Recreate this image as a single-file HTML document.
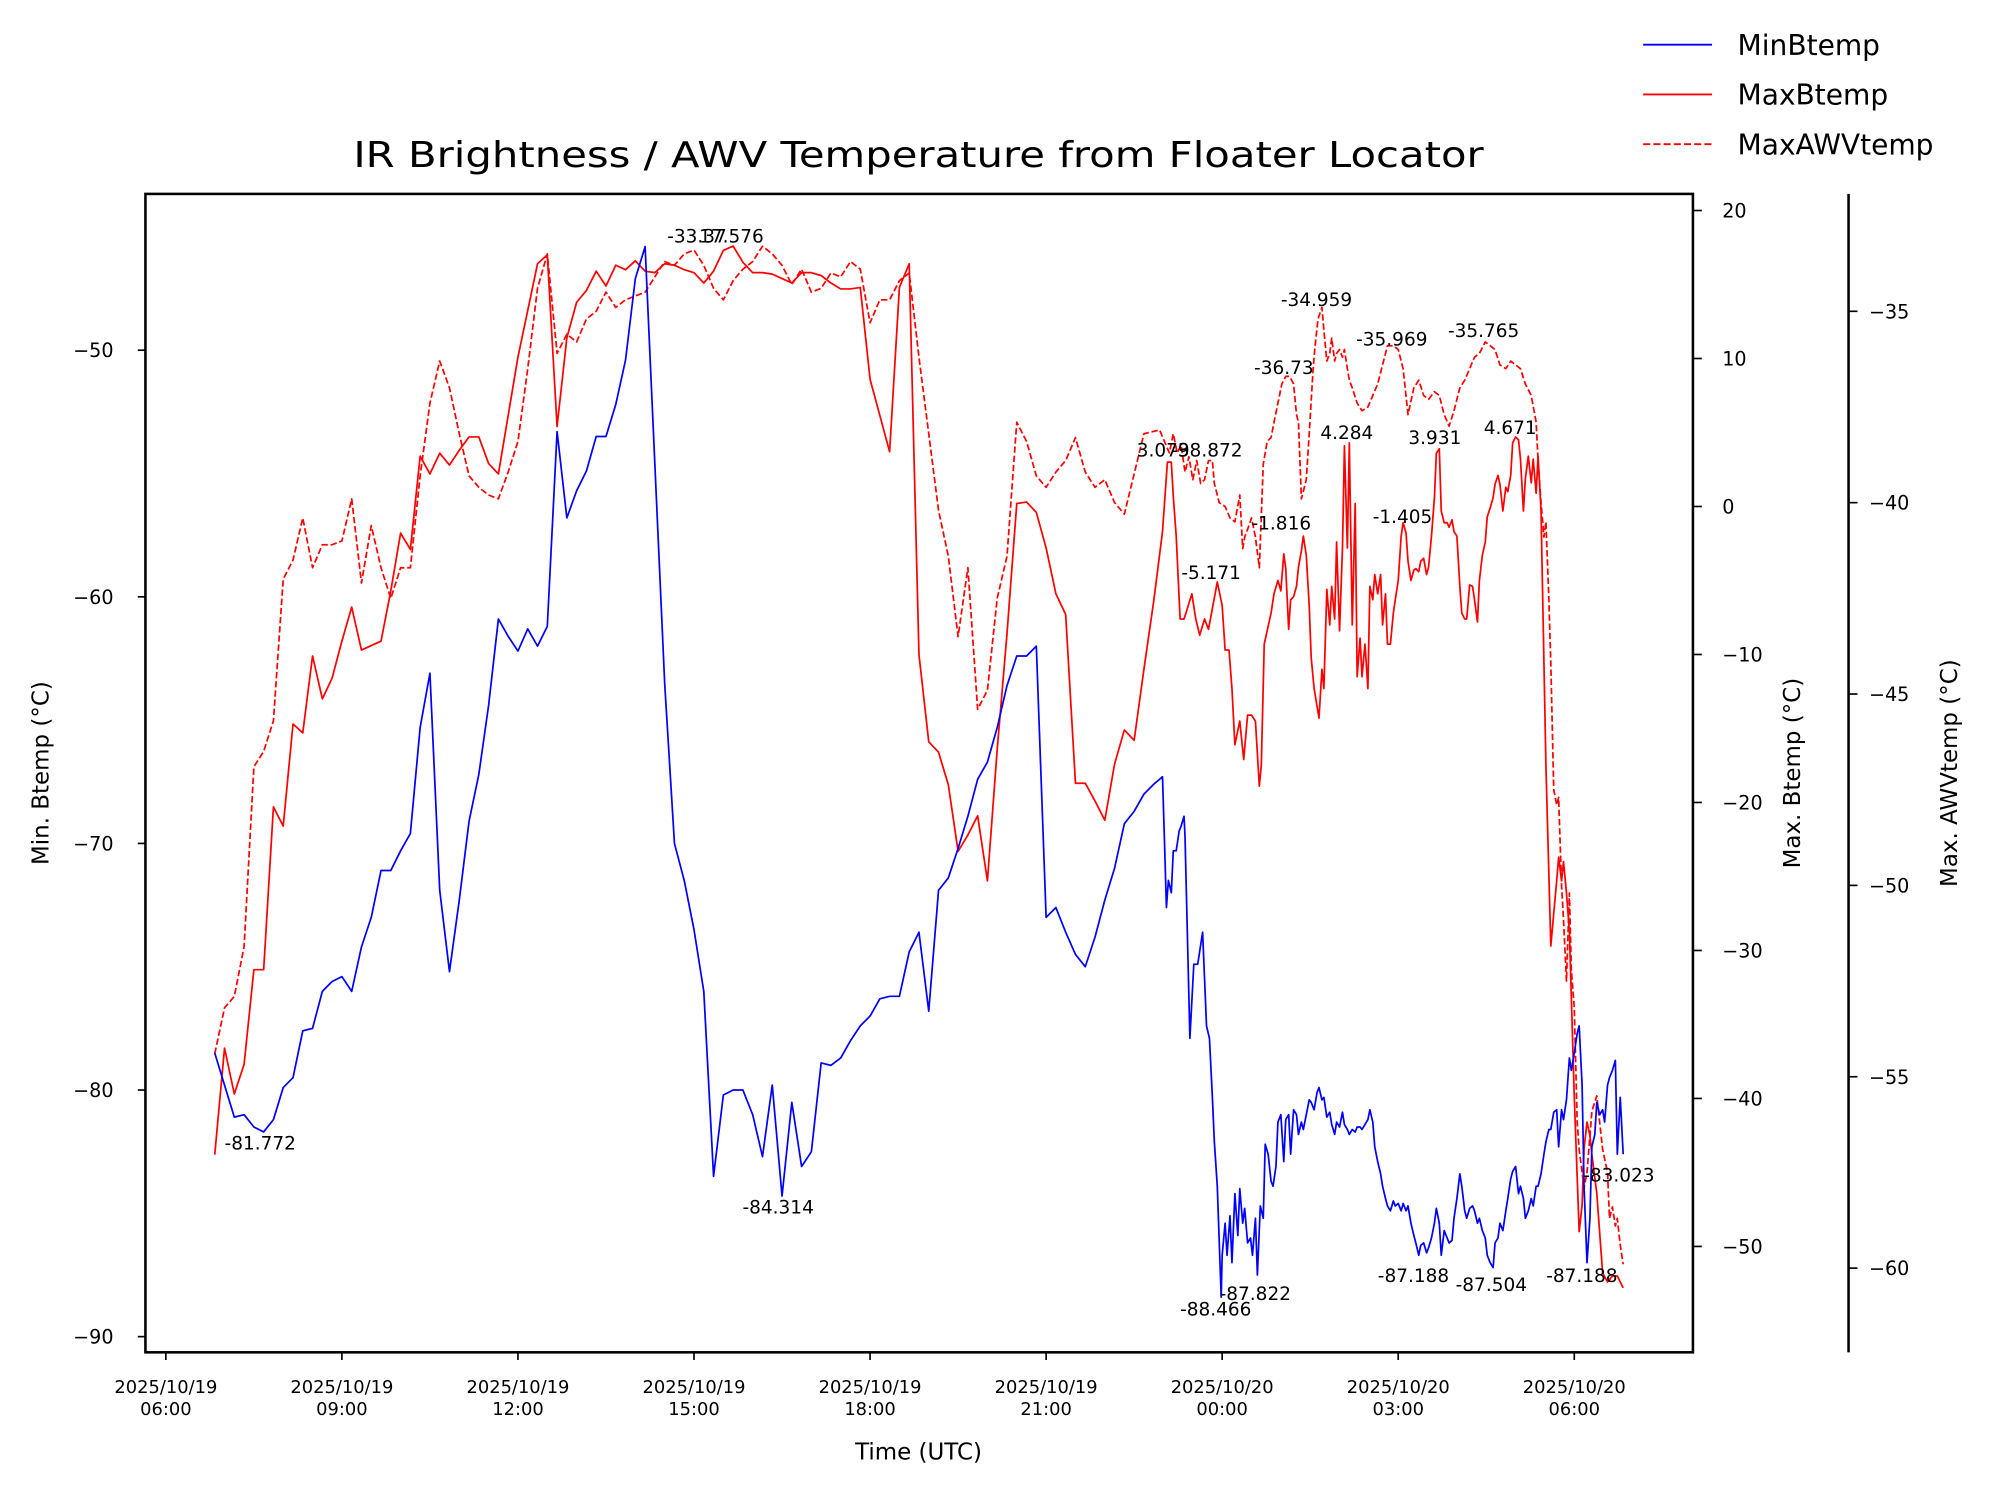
<!DOCTYPE html>
<html><head><meta charset="utf-8"><style>
html,body{margin:0;padding:0;background:#fff;}
svg{display:block;font-family:"DejaVu Sans","Liberation Sans",sans-serif;}
</style></head><body>
<svg id="chart" width="1994" height="1491" viewBox="0 0 1563 1168.7" preserveAspectRatio="none" xmlns="http://www.w3.org/2000/svg">
<rect x="0" y="0" width="1563" height="1169" fill="#fff"/>
<text x="720" y="131" font-size="28" text-anchor="middle" textLength="886" lengthAdjust="spacingAndGlyphs">IR Brightness / AWV Temperature from Floater Locator</text>
<g id="plot"></g>
<rect x="114" y="152" width="1213" height="908" fill="none" stroke="#000" stroke-width="2"/>
<line x1="1449" y1="152" x2="1449" y2="1060" stroke="#000" stroke-width="2"/>
<g id="axes"></g>
<text x="720" y="1144" font-size="18" text-anchor="middle">Time (UTC)</text>
<text transform="translate(38,606) rotate(-90)" font-size="18" text-anchor="middle">Min. Btemp (°C)</text>
<text transform="translate(1411,606) rotate(-90)" font-size="18" text-anchor="middle">Max. Btemp (°C)</text>
<text transform="translate(1534,606) rotate(-90)" font-size="18" text-anchor="middle">Max. AWVtemp (°C)</text>
<g font-size="22">
<g><line x1="1288" y1="35" x2="1342" y2="35" stroke="#00f" stroke-width="1.5"/><text x="1362" y="43">MinBtemp</text></g>
<g><line x1="1288" y1="74" x2="1342" y2="74" stroke="#f00" stroke-width="1.5"/><text x="1362" y="82">MaxBtemp</text></g>
<g><line x1="1288" y1="113" x2="1342" y2="113" stroke="#f00" stroke-width="1.5" stroke-dasharray="5.5,2.5"/><text x="1362" y="121">MaxAWVtemp</text></g>
</g>
<g font-size="14.5">
<text x="176" y="901">-81.772</text>
<text x="582" y="951">-84.314</text>
<text x="523" y="190">-33.37</text>
<text x="548" y="190">17.576</text>
<text x="1004" y="240">-34.959</text>
<text x="983" y="293">-36.73</text>
<text x="1063" y="271">-35.969</text>
<text x="1135" y="264">-35.765</text>
<text x="891" y="358">3.079</text>
<text x="918" y="358">-38.872</text>
<text x="1035" y="344">4.284</text>
<text x="1104" y="348">3.931</text>
<text x="1163" y="340">4.671</text>
<text x="981" y="415">-1.816</text>
<text x="1076" y="410">-1.405</text>
<text x="926" y="454">-5.171</text>
<text x="925" y="1031">-88.466</text>
<text x="956" y="1019">-87.822</text>
<text x="1080" y="1005">-87.188</text>
<text x="1141" y="1012">-87.504</text>
<text x="1212" y="1005">-87.188</text>
<text x="1241" y="926">-83.023</text>
</g>
</svg>
<script>
// minutes after 2025/10/19 06:00 UTC
const minT = [50,60,70,80,90,100,110,120,130,140,150,160,170,180,190,200,210,220,230,240,250,260,270,280,290,300,310,320,330,340,350,360,370,380,390,400,410,420,430,440,450,460,470,480,490,510,520,530,540,550,560,570,580,590,600,610,620,630,640,650,660,670,680,690,700,710,720,730,740,750,760,770,780,790,800,810,820,830,840,850,860,870,880,890,900,910,920,930,940,950,960,970,980,990,1000,1010,1019,1021,1023,1025,1028,1030,1033,1036,1038,1041,1042,1047,1051,1055,1060,1064,1067,1070,1072,1075,1079,1080,1083,1085,1088,1090,1093,1096,1098,1101,1103,1106,1109,1111,1114,1116,1119,1122,1124,1127,1130,1132,1135,1137,1140,1143,1145,1148,1150,1153,1156,1158,1161,1163,1166,1169,1171,1174,1177,1179,1182,1184,1187,1190,1192,1195,1197,1200,1203,1205,1208,1210,1213,1216,1218,1221,1223,1226,1229,1231,1234,1236,1239,1242,1244,1247,1249,1252,1255,1257,1260,1263,1265,1268,1270,1273,1276,1278,1281,1283,1286,1289,1291,1294,1297,1299,1302,1304,1307,1310,1312,1315,1317,1320,1323,1325,1328,1330,1333,1336,1338,1341,1343,1346,1349,1351,1354,1357,1359,1362,1364,1367,1370,1372,1375,1377,1380,1383,1385,1388,1390,1393,1396,1398,1401,1403,1406,1409,1411,1414,1416,1419,1422,1424,1427,1429,1432,1435,1437,1440,1443,1445,1448,1450,1453,1456,1458,1461,1463,1466,1469,1471,1474,1476,1479,1482,1484,1487,1490];
const minV = [-78.5,-79.8,-81.1,-81.0,-81.5,-81.7,-81.2,-79.9,-79.5,-77.6,-77.5,-76.0,-75.6,-75.4,-76.0,-74.2,-73.0,-71.1,-71.1,-70.3,-69.6,-65.3,-63.1,-71.9,-75.2,-72.3,-69.1,-67.2,-64.4,-60.9,-61.6,-62.2,-61.3,-62.0,-61.2,-53.3,-56.8,-55.7,-54.9,-53.5,-53.5,-52.2,-50.4,-47.1,-45.8,-63.5,-70.0,-71.5,-73.5,-76.0,-83.5,-80.2,-80.0,-80.0,-81.0,-82.7,-79.8,-84.3,-80.5,-83.1,-82.5,-78.9,-79.0,-78.7,-78.0,-77.4,-77.0,-76.3,-76.2,-76.2,-74.4,-73.6,-76.8,-71.9,-71.4,-70.2,-68.9,-67.4,-66.7,-65.3,-63.6,-62.4,-62.4,-62.0,-73.0,-72.6,-73.6,-74.5,-75.0,-73.8,-72.3,-71.0,-69.2,-68.7,-68.0,-67.6,-67.3,-69.9,-72.6,-71.5,-72.0,-70.3,-70.3,-69.5,-69.3,-68.9,-69.7,-77.9,-74.9,-74.9,-73.6,-77.4,-77.9,-80.3,-82.1,-83.9,-88.4,-86.7,-85.4,-86.7,-85.1,-87.0,-84.2,-85.9,-84.0,-85.4,-84.8,-86.2,-86.0,-86.7,-85.2,-87.5,-84.7,-85.2,-82.2,-82.6,-83.7,-83.9,-83.1,-81.3,-81.0,-82.9,-81.2,-81.0,-82.6,-80.8,-81.0,-81.8,-81.3,-81.6,-81.0,-80.4,-80.5,-80.8,-80.1,-79.9,-80.4,-80.3,-81.1,-80.9,-81.4,-81.8,-81.3,-81.5,-80.9,-81.4,-81.6,-81.8,-81.6,-81.7,-81.5,-81.5,-81.6,-81.4,-81.2,-80.8,-81.3,-82.3,-82.9,-83.4,-83.9,-84.4,-84.7,-84.9,-84.5,-84.7,-84.6,-84.9,-84.6,-84.9,-84.7,-85.4,-85.9,-86.2,-86.7,-86.3,-86.2,-86.6,-86.4,-86.0,-85.4,-84.8,-85.4,-86.7,-85.7,-86.0,-86.2,-86.1,-85.2,-84.4,-83.4,-83.9,-84.9,-85.2,-84.8,-84.7,-84.9,-85.4,-85.2,-85.7,-86.0,-86.7,-87.0,-87.2,-86.2,-86.0,-85.4,-85.7,-84.9,-84.4,-83.6,-83.3,-83.1,-84.2,-83.9,-84.4,-85.2,-84.9,-84.4,-84.7,-83.9,-83.9,-83.4,-82.6,-82.1,-81.6,-81.6,-80.9,-80.8,-82.3,-80.8,-81.2,-80.4,-78.7,-79.2,-78.5,-77.7,-77.4,-79.8,-83.9,-87.0,-85.2,-82.3,-81.8,-80.5,-81.0,-80.8,-81.3,-79.8,-79.5,-79.2,-78.8,-82.6,-80.3,-82.6];

const maxT = [50,60,70,80,90,100,110,120,130,140,150,160,170,180,190,200,210,220,230,240,250,260,270,280,290,300,310,320,330,340,360,380,390,400,410,420,430,440,450,460,470,480,490,500,510,520,530,540,550,560,570,580,590,600,610,620,630,640,650,660,670,680,690,700,710,720,740,750,760,770,780,790,800,810,820,830,840,850,860,870,880,890,900,910,920,930,940,950,960,970,980,990,1000,1010,1019,1024,1028,1030,1033,1037,1041,1043,1049,1053,1057,1062,1066,1070,1075,1080,1083,1087,1090,1093,1098,1102,1106,1110,1114,1118,1120,1123,1130,1133,1137,1140,1143,1145,1148,1150,1153,1156,1158,1161,1163,1166,1169,1171,1174,1179,1182,1184,1187,1190,1192,1195,1197,1200,1203,1205,1208,1210,1213,1216,1218,1221,1223,1226,1229,1231,1234,1236,1239,1242,1244,1247,1249,1252,1255,1257,1260,1263,1265,1268,1270,1273,1276,1278,1281,1283,1286,1289,1291,1294,1297,1299,1302,1304,1307,1310,1312,1315,1317,1320,1323,1325,1328,1330,1333,1336,1338,1341,1343,1346,1349,1351,1354,1357,1359,1362,1364,1367,1370,1372,1375,1377,1380,1383,1385,1388,1390,1393,1396,1398,1401,1403,1406,1411,1416,1422,1424,1427,1429,1432,1435,1440,1445,1448,1450,1453,1456,1458,1463,1469,1474,1479,1484,1490];
const maxV = [-43.8,-36.6,-39.7,-37.7,-31.3,-31.3,-20.3,-21.6,-14.7,-15.3,-10.1,-13.0,-11.6,-9.1,-6.8,-9.7,-9.4,-9.1,-5.7,-1.8,-2.9,3.4,2.2,3.6,2.8,3.8,4.7,4.7,2.9,2.2,10.1,16.4,17.0,5.4,11.4,13.8,14.6,15.9,14.9,16.3,16.0,16.6,15.9,15.8,16.4,16.3,16.0,15.8,15.1,15.9,17.3,17.6,16.5,15.8,15.8,15.7,15.4,15.1,15.8,15.8,15.6,15.1,14.7,14.7,14.8,8.6,3.7,14.8,16.4,-10.0,-15.9,-16.6,-18.8,-23.3,-22.2,-20.9,-25.3,-16.4,-8.6,0.2,0.3,-0.4,-2.8,-5.9,-7.3,-18.7,-18.7,-19.9,-21.2,-17.4,-15.1,-15.8,-11.0,-6.4,-1.7,3.0,3.0,0.7,-2.0,-7.6,-7.6,-7.2,-5.9,-7.6,-8.7,-7.6,-8.3,-6.9,-5.1,-6.7,-9.7,-9.7,-12.3,-16.1,-14.5,-17.1,-14.1,-14.1,-14.5,-18.9,-17.5,-9.3,-7.2,-5.9,-5.0,-5.7,-3.2,-4.2,-8.3,-6.3,-6.1,-5.4,-4.1,-3.0,-2.0,-3.3,-6.7,-10.2,-12.3,-14.3,-11.0,-12.3,-5.6,-8.0,-5.4,-7.6,-2.4,-8.4,-2.8,4.1,-2.8,4.3,-8.0,0.2,-11.5,-8.9,-11.5,-9.3,-12.3,-5.4,-6.3,-4.6,-5.9,-4.6,-8.0,-5.9,-9.3,-9.3,-7.2,-6.3,-5.0,-2.0,-1.1,-1.8,-3.7,-5.0,-4.3,-4.2,-4.4,-3.7,-3.5,-4.6,-4.1,-2.0,0.6,3.6,3.9,-0.3,-1.1,-1.1,-1.4,-0.9,-1.7,-2.0,-5.4,-7.2,-7.6,-7.6,-5.3,-5.4,-6.3,-7.8,-5.0,-3.3,-2.4,-0.7,-0.1,0.6,1.5,2.1,1.5,-0.3,1.3,1.0,2.1,4.3,4.7,4.5,3.2,-0.3,1.9,3.4,1.6,3.2,0.9,3.4,-0.3,-17.5,-29.7,-25.3,-23.7,-25.3,-24.0,-26.1,-28.7,-39.9,-49.0,-47.2,-43.4,-41.6,-42.5,-43.8,-46.4,-51.8,-52.4,-52.0,-52.0,-52.8];

const awvT = [50,60,70,80,90,100,110,120,130,140,150,160,170,180,190,200,210,220,230,240,250,260,270,280,290,300,310,320,330,340,350,360,370,380,390,400,410,420,430,440,450,460,470,480,490,500,510,520,530,540,550,560,570,580,590,600,610,620,630,640,650,660,670,680,690,700,710,720,730,740,750,760,770,780,790,800,810,820,830,840,850,860,870,880,890,900,910,920,930,940,950,960,970,980,1000,1016,1021,1026,1030,1034,1038,1042,1046,1050,1054,1058,1062,1066,1070,1072,1077,1083,1088,1093,1098,1101,1103,1106,1110,1114,1118,1122,1126,1130,1133,1137,1141,1145,1149,1153,1156,1158,1161,1163,1166,1169,1173,1175,1178,1182,1184,1187,1190,1192,1195,1197,1200,1203,1205,1208,1210,1213,1218,1223,1229,1234,1239,1244,1249,1255,1260,1265,1270,1276,1281,1286,1291,1297,1302,1307,1312,1317,1323,1328,1333,1338,1343,1349,1354,1359,1364,1370,1375,1380,1385,1390,1396,1401,1403,1406,1409,1411,1414,1416,1419,1422,1424,1427,1429,1432,1435,1437,1440,1443,1445,1448,1450,1453,1458,1463,1469,1474,1476,1479,1482,1484,1487,1490];
const awvV = [-54.4,-53.2,-52.9,-51.6,-46.9,-46.5,-45.7,-42.0,-41.5,-40.4,-41.7,-41.1,-41.1,-41.0,-39.9,-42.1,-40.6,-41.7,-42.5,-41.7,-41.7,-39.3,-37.4,-36.3,-37.0,-38.2,-39.3,-39.6,-39.8,-39.9,-39.2,-38.4,-36.5,-34.4,-33.5,-36.1,-35.6,-35.8,-35.2,-35.0,-34.5,-34.9,-34.7,-34.6,-34.5,-34.1,-33.7,-33.8,-33.5,-33.4,-33.8,-34.4,-34.7,-34.2,-33.9,-33.7,-33.3,-33.5,-33.8,-34.3,-33.9,-34.5,-34.4,-34.0,-34.1,-33.7,-33.9,-35.3,-34.7,-34.7,-34.2,-34.0,-36.2,-38.2,-40.2,-41.4,-43.5,-41.7,-45.4,-44.9,-42.5,-41.4,-37.9,-38.4,-39.3,-39.6,-39.2,-38.9,-38.3,-39.2,-39.6,-39.4,-40.0,-40.3,-38.2,-38.1,-38.4,-38.7,-38.2,-38.7,-38.5,-39.2,-38.8,-39.4,-38.9,-39.5,-39.4,-38.9,-38.9,-39.5,-40.0,-40.1,-40.4,-40.5,-39.8,-41.2,-40.9,-40.7,-40.4,-40.9,-41.7,-39.0,-38.4,-38.3,-37.9,-37.4,-36.9,-36.7,-36.7,-36.9,-37.7,-37.9,-39.9,-39.7,-39.4,-38.2,-36.5,-35.9,-35.2,-34.9,-35.5,-36.3,-36.1,-35.7,-36.3,-36.1,-36.0,-36.2,-36.0,-36.5,-36.8,-37.0,-37.4,-37.6,-37.5,-37.2,-36.9,-36.4,-35.9,-35.9,-36.0,-36.5,-37.7,-37.0,-36.8,-37.2,-37.3,-37.1,-37.2,-37.7,-38.0,-37.6,-37.0,-36.8,-36.5,-36.2,-36.1,-35.8,-35.9,-36.0,-36.4,-36.5,-36.3,-36.4,-36.5,-36.9,-37.2,-37.9,-38.9,-40.0,-40.9,-40.5,-42.5,-44.2,-47.5,-47.9,-47.7,-50.0,-50.9,-52.5,-50.2,-52.2,-53.2,-56.2,-56.9,-57.5,-57.9,-57.5,-55.9,-55.5,-56.9,-57.5,-58.7,-58.4,-58.9,-58.7,-59.4,-59.9];

const xTickMinutes = [0,180,360,540,720,900,1080,1260,1440];
const xTickDates = ["2025/10/19","2025/10/19","2025/10/19","2025/10/19","2025/10/19","2025/10/19","2025/10/20","2025/10/20","2025/10/20"];
const xTickTimes = ["06:00","09:00","12:00","15:00","18:00","21:00","00:00","03:00","06:00"];
const leftTicks = [-50,-60,-70,-80,-90];
const rightTicks = [20,10,0,-10,-20,-30,-40,-50];
const awvTicks = [-35,-40,-45,-50,-55,-60];

const NS = "http://www.w3.org/2000/svg";
function xs(m){ return 130 + m * 46 / 60; }
function yL(v){ return 274.5 - (v + 50) * 19.33; }
function yR(v){ return 165 - (v - 20) * 11.6; }
function yA(v){ return 244 - (v + 35) * 30; }
function mk(tag, attrs, parent){
  const e = document.createElementNS(NS, tag);
  for (const k in attrs) e.setAttribute(k, attrs[k]);
  parent.appendChild(e);
  return e;
}
const plot = document.getElementById('plot');
const axes = document.getElementById('axes');

function drawLine(T, V, yf, color, dash, name){
  let d = "";
  for (let i = 0; i < T.length; i++) d += (i ? "L" : "M") + xs(T[i]).toFixed(2) + "," + yf(V[i]).toFixed(2);
  const p = mk('path', {d: d, fill: 'none', stroke: color, 'stroke-width': 1.35, 'stroke-linejoin': 'round'}, plot);
  if (dash) p.setAttribute('stroke-dasharray', dash);
  
  
}
drawLine(awvT, awvV, yA, '#f00', '5,2.2', 'maxawvtemp-line');
drawLine(maxT, maxV, yR, '#f00', null, 'maxbtemp-line');
drawLine(minT, minV, yL, '#00f', null, 'minbtemp-line');

xTickMinutes.forEach((m, i) => {
  const x = xs(m);
  const t = mk('line', {x1: x, y1: 1060, x2: x, y2: 1066, stroke: '#000', 'stroke-width': 1.3}, axes);
  
  
  const tx = mk('text', {x: x, y: 1092, 'font-size': 14, 'text-anchor': 'middle'}, axes);
  
  
  mk('tspan', {x: x, dy: 0}, tx).textContent = xTickDates[i];
  mk('tspan', {x: x, dy: 17}, tx).textContent = xTickTimes[i];
});
leftTicks.forEach(v => {
  const y = yL(v);
  const t = mk('line', {x1: 108, y1: y, x2: 114, y2: y, stroke: '#000', 'stroke-width': 1.3}, axes);
  
  
  const tx = mk('text', {x: 89, y: y + 5.5, 'font-size': 15, 'text-anchor': 'end'}, axes);
  
  
  tx.textContent = String(v).replace('-', '\u2212');
});
rightTicks.forEach(v => {
  const y = yR(v);
  const t = mk('line', {x1: 1327, y1: y, x2: 1334, y2: y, stroke: '#000', 'stroke-width': 1.3}, axes);
  
  
  const tx = mk('text', {x: 1350, y: y + 5.5, 'font-size': 15}, axes);
  
  
  tx.textContent = String(v).replace('-', '\u2212');
});
awvTicks.forEach(v => {
  const y = yA(v);
  const t = mk('line', {x1: 1449, y1: y, x2: 1456, y2: y, stroke: '#000', 'stroke-width': 1.3}, axes);
  
  
  const tx = mk('text', {x: 1465, y: y + 5.5, 'font-size': 15}, axes);
  
  
  tx.textContent = String(v).replace('-', '\u2212');
});
</script>
</body></html>
